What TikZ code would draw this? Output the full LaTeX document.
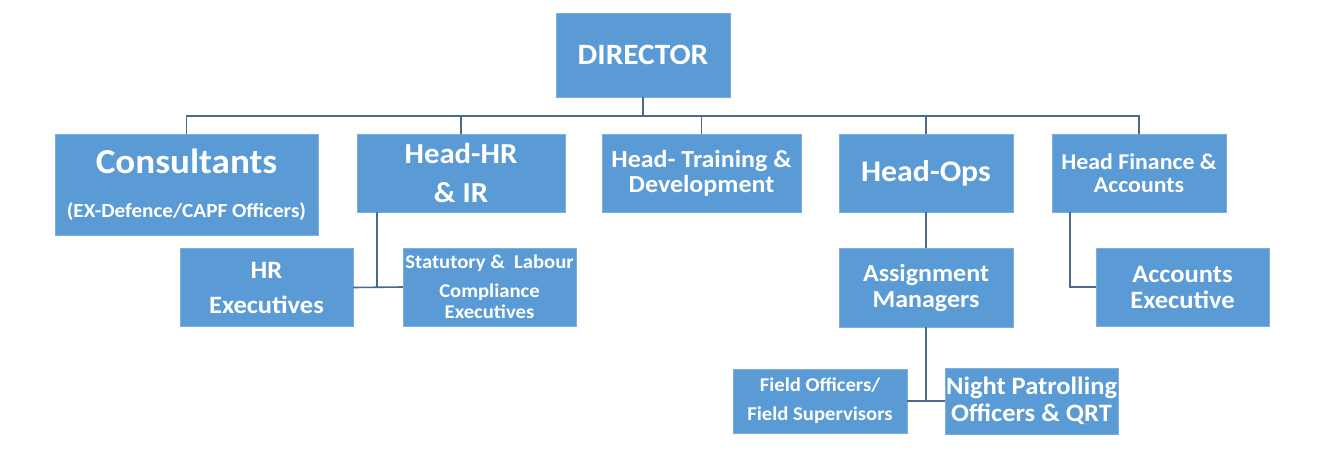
\documentclass[tikz,border=0pt]{standalone}
\usepackage{fontspec}
\setmainfont{Carlito}[FakeStretch=1.06]
\definecolor{boxblue}{HTML}{5B9BD5}
\definecolor{linkgrey}{HTML}{4A6A8A}

\begin{document}
\begin{tikzpicture}[x=1pt, y=-1pt,
		unit/.style={draw=boxblue!80!white, fill=boxblue, text=white, shape=rectangle, inner sep=0pt, align=center},
		link/.style={draw=linkgrey, line width=1.6pt}]
	\useasboundingbox[fill=white] (0,0) rectangle (1339,467);

	\node[unit, minimum width=174pt, minimum height=84pt, font=\bfseries\fontsize{29.5}{35}\selectfont] (b_dir) at (643,55) {DIRECTOR};

	\node[unit, minimum width=263pt, minimum height=101pt, font=\bfseries\fontsize{20}{44}\selectfont] (b_cons) at (186.5,184.5) {{\fontsize{35}{44}\selectfont Consultants}\\(EX-Defence/CAPF Officers)};
	\node[unit, minimum width=208pt, minimum height=78pt, font=\bfseries\fontsize{29}{39}\selectfont] (b_hr) at (461,173) {Head-HR\\\& IR};
	\node[unit, minimum width=199pt, minimum height=78pt, font=\bfseries\fontsize{24.5}{25}\selectfont] (b_trn) at (701.5,173) {Head- Training \&\\Development};
	\node[unit, minimum width=174pt, minimum height=78pt, font=\bfseries\fontsize{30}{36}\selectfont] (b_ops) at (926,173) {Head-Ops};
	\node[unit, minimum width=174pt, minimum height=78pt, font=\bfseries\fontsize{22.5}{23.5}\selectfont] (b_fin) at (1139,173) {Head Finance \&\\Accounts};

	\node[unit, minimum width=173pt, minimum height=78pt, font=\bfseries\fontsize{25}{35}\selectfont] (b_hrex) at (266.5,287.5) {HR\\Executives};
	\node[unit, minimum width=173pt, minimum height=78pt, font=\bfseries\fontsize{19.5}{21}\selectfont] (b_stat) at (489.5,287) {Statutory \& \ Labour\\[8pt]Compliance\\Executives};
	\node[unit, minimum width=174pt, minimum height=79pt, font=\bfseries\fontsize{24.5}{26}\selectfont] (b_asg) at (926,287.5) {Assignment\\Managers};
	\node[unit, minimum width=173pt, minimum height=78pt, font=\bfseries\fontsize{25}{26}\selectfont] (b_acc) at (1182.5,287) {Accounts\\Executive};

	\node[unit, minimum width=174pt, minimum height=64pt, font=\bfseries\fontsize{19.5}{29}\selectfont] (b_fld) at (820,401) {Field Officers/\\Field Supervisors};
	\node[unit, minimum width=173pt, minimum height=66pt, font=\bfseries\fontsize{25}{27}\selectfont] (b_ngt) at (1031.5,401) {Night Patrolling\\Officers \& QRT};

	\coordinate (bus) at (643,116);
	\draw[link] (b_dir.south) -- (bus);
	\foreach \n in {b_cons,b_hr,b_trn,b_ops,b_fin}
		\draw[link] (bus) -| (\n.north);

	\draw[link] ([xshift=-84pt]b_hr.south) |- (b_hrex.east);
	\draw[link] (b_hrex.east) -- (b_stat.west);
	\draw[link] (b_ops.south) -- (b_asg.north);
	\draw[link] ([xshift=-69pt]b_fin.south) |- (b_acc.west);
	\draw[link] (b_asg.south) -- (b_asg.south |- b_fld.east);
	\draw[link] (b_fld.east) -- (b_ngt.west);
\end{tikzpicture}
\end{document}
